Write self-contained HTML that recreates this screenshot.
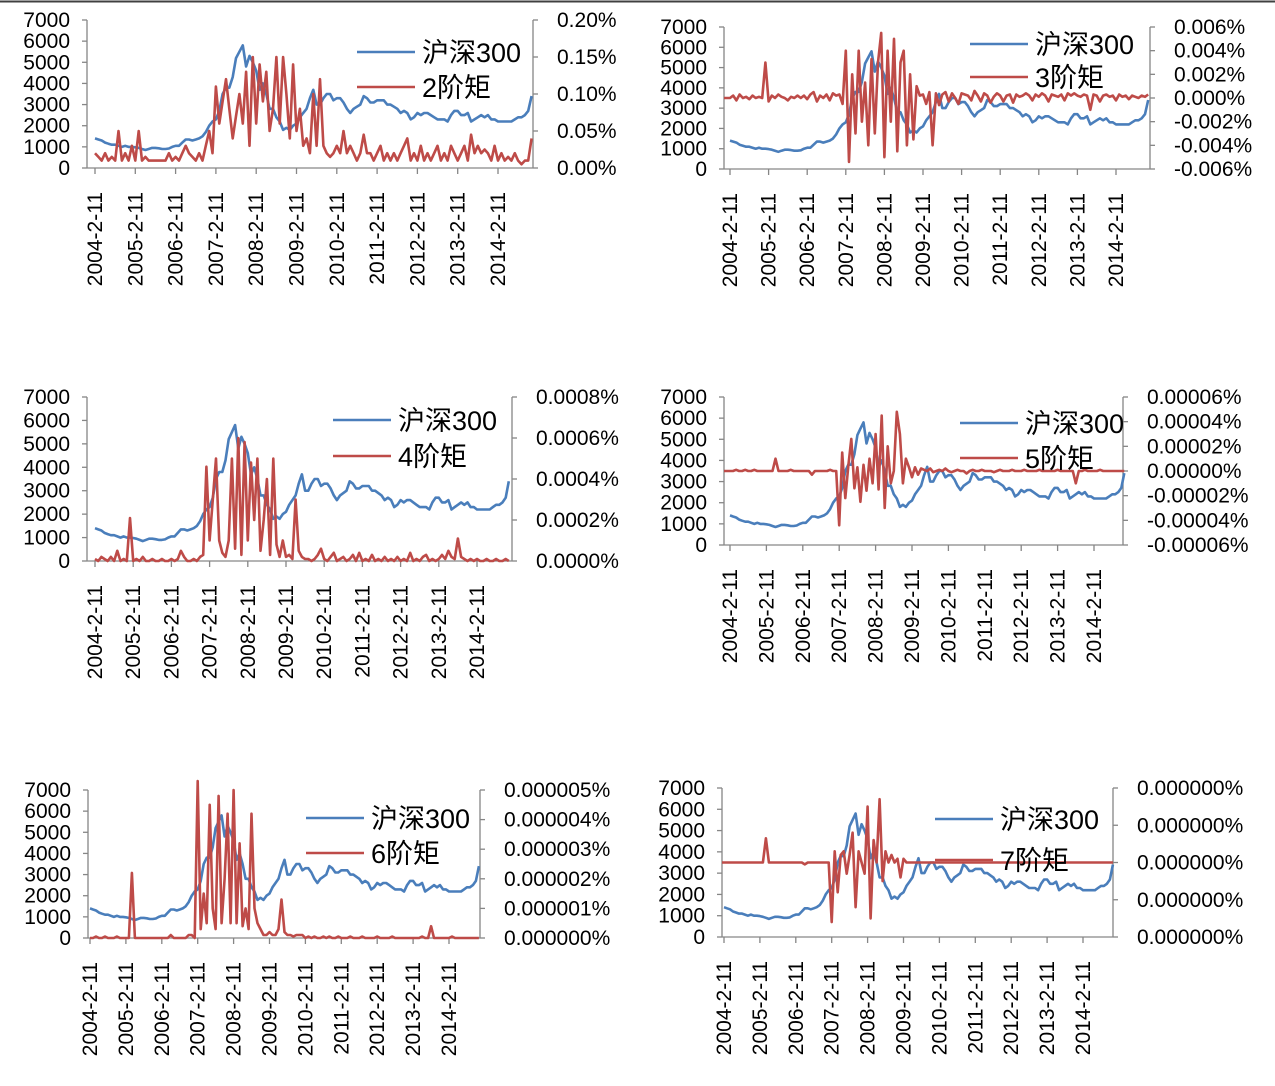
<!DOCTYPE html>
<html><head><meta charset="utf-8">
<style>
html,body{margin:0;padding:0;background:#fff;}
svg{display:block;}
text{font-family:"Liberation Sans","Noto Sans CJK SC",sans-serif;fill:#000;}
.lg{font-size:27px;}
.tk{font-size:21px;}
</style></head>
<body>
<svg id="s" width="1275" height="1086" viewBox="0 0 1275 1086" xmlns="http://www.w3.org/2000/svg">
<line x1="0" y1="1.5" x2="1275" y2="1.5" stroke="#404040" stroke-width="2"/>
</svg>
<script>
const xTickLabels=["2004-2-11","2005-2-11","2006-2-11","2007-2-11","2008-2-11","2009-2-11","2010-2-11","2011-2-11","2012-2-11","2013-2-11","2014-2-11"];
const leftTicks=[0,1000,2000,3000,4000,5000,6000,7000];
// CSI300 monthly, Feb 2004 - Dec 2014
const csi300=[1400,1350,1300,1200,1150,1100,1100,1050,1000,1050,1000,
1000,980,950,900,850,900,950,950,930,900,900,920,
1000,1050,1050,1200,1350,1350,1300,1350,1400,1500,1700,2000,
2200,2300,2700,3500,3800,3800,4300,5200,5500,5800,4800,5300,
5000,4600,3700,4000,3500,2800,2800,2400,2200,1800,1900,1800,
2000,2100,2400,2600,2800,3300,3700,3000,3000,3300,3500,3500,
3200,3300,3300,3100,2800,2600,2800,2900,3000,3400,3300,3100,
3100,3200,3200,3200,3000,3000,2900,2800,2600,2700,2600,2300,
2400,2600,2500,2600,2600,2500,2400,2300,2300,2300,2200,2500,
2700,2700,2500,2500,2600,2200,2300,2400,2500,2400,2500,2300,
2300,2200,2200,2200,2200,2200,2300,2400,2400,2500,2700,3400];
const moment2=[.02,.015,.01,.02,.01,.015,.01,.05,.01,.02,.01,
.03,.01,.05,.01,.015,.01,.01,.01,.01,.01,.01,.02,
.01,.015,.01,.02,.03,.02,.015,.01,.02,.01,.03,.05,
.02,.11,.06,.09,.12,.08,.04,.07,.1,.06,.13,.03,
.15,.06,.14,.09,.13,.05,.08,.15,.06,.15,.1,.04,
.14,.05,.08,.03,.04,.02,.1,.03,.12,.03,.02,.015,
.02,.03,.02,.05,.02,.03,.02,.01,.02,.045,.02,.02,
.01,.02,.03,.01,.02,.01,.02,.01,.02,.03,.04,.01,
.02,.01,.03,.01,.02,.01,.02,.03,.01,.02,.01,.03,
.02,.01,.02,.03,.01,.045,.02,.03,.02,.025,.02,.01,
.03,.01,.02,.01,.015,.01,.02,.01,.005,.01,.01,.04];
const moment3=[0,.0002,-.0002,.0003,0,.0001,-.0001,.0002,0,.0001,0,
.003,-.0003,.0002,0,.0003,.0001,0,-.0002,.0001,0,.0002,0,
.0002,-.0001,.0003,.0005,-.0003,.0002,0,.0003,-.0002,.0004,.0002,.0003,
-.0005,.004,-.0054,.002,-.003,.004,-.002,.0013,-.004,.0033,-.003,.003,
.0055,-.005,.004,-.002,.005,-.0045,.003,.004,-.004,.002,-.0035,.001,
.0002,.0003,-.0005,.0005,-.004,.0004,-.0006,.0003,.0005,-.0003,.0004,0,
-.0005,.0004,.0003,.0002,-.0002,.0006,.0002,-.0003,.0004,.0002,-.0004,.0001,
.0004,.0002,-.0003,.0002,.0003,-.0004,.0003,.0001,.0002,.0004,.0002,-.0002,
.0003,.0001,.0004,.0002,-.0003,.0003,.0002,.0001,.0003,-.0002,.0004,.0002,
.0004,.0002,.0001,.0003,.0002,-.001,.0003,.0002,-.0003,.0002,.0003,.0001,
.0002,-.0002,.0003,.0001,.0002,-.0001,.0002,.0001,0,.0002,.0001,.0003];
const moment4=[.01,0,.02,.01,0,.02,0,.05,0,.01,0,
.21,0,.01,0,.02,0,0,.01,0,0,.01,0,
0,.01,0,.01,.05,.02,0,0,.01,0,.02,.03,
.46,.1,.3,.5,.1,.04,.02,.1,.5,.06,.6,.03,
.58,.1,.48,.2,.5,.05,.2,.4,.03,.5,.08,.02,
.1,.02,.03,.01,.3,.05,.02,.01,.01,0,.01,.03,
.06,.01,0,.02,.04,0,.01,.02,0,.01,.03,0,
.04,0,.01,0,.03,0,.01,0,.02,0,.01,0,
.02,0,.01,0,.04,0,.01,0,.02,.03,0,.01,
0,.01,.03,.01,.05,.02,.01,.11,.02,.01,0,.01,
0,.01,0,0,.01,0,0,.01,0,0,.01,0]; // x1e-3 %
const moment5=[0,0,.1,0,0,.1,0,0,.1,0,0,
0,0,0,0,1,0,0,0,0,.1,0,0,
0,0,0,0,-.3,0,0,0,0,0,.1,0,
0,-4.4,1.5,-2.2,.4,2.6,-1.4,.3,-2.5,.5,-1.6,1,
-1,3,-1.5,4.5,-3,2,-1,0,4.8,3,-1,1,
.3,-.5,.3,-.3,.2,.1,0,.2,-.1,0,.1,0,
.2,0,-.1,0,.1,0,0,-.2,0,.1,0,0,
.1,0,0,0,-.1,0,.1,0,0,0,.1,0,
0,0,.1,0,0,0,0,.1,0,0,0,0,
0,.1,0,0,0,0,0,-1,0,0,.1,0,
0,0,0,.1,0,0,0,0,0,0,0,0]; // x1e-5 %
const moment6=[0,0,.05,0,0,.05,0,0,0,.05,0,
0,0,0,2.2,0,0,0,0,0,0,0,0,
0,0,0,0,.1,0,0,0,0,0,.1,.1,
0,5.3,.3,1.5,.5,4.5,1,.3,4.8,.5,2,4.2,
.5,5,.5,3.2,.4,1,.3,4.2,1,.5,.3,.1,
.1,.2,.1,.1,.3,1.3,.2,.1,.1,.05,.1,.1,
.1,0,.05,0,.05,0,0,.05,0,.05,0,0,
.05,0,0,0,.05,0,0,0,.05,0,0,0,
0,.05,0,0,0,0,.05,0,0,0,0,0,
0,0,0,0,.05,0,0,.4,0,0,0,0,
0,0,.05,0,0,0,0,0,0,0,0,0]; // x1e-6 %
const moment7=[0,0,0,0,0,0,0,0,0,0,0,
0,0,0,.65,0,0,0,0,0,0,0,0,
0,0,0,0,-.05,0,0,0,0,0,0,0,
0,-1.6,.3,-.8,.2,.3,-.3,.2,.8,-1.2,.3,0,
-.3,1.5,-1.5,.6,0,1.7,-.5,.3,0,.2,0,.1,
-.4,.1,0,0,0,0,0,0,0,0,0,0,
0,0,0,0,0,0,0,0,0,0,0,0,
0,0,0,0,0,0,0,0,0,0,0,0,
0,0,0,0,0,0,0,0,0,0,0,0,
0,0,0,0,0,0,0,0,0,0,0,0,
0,0,0,0,0,0,0,0,0,0,0,0];
const rightTicks2=[0,0.05,0.10,0.15,0.20];
const rightTicks3=[-0.006,-0.004,-0.002,0,0.002,0.004,0.006];
const rightTicks4=[0,0.2,0.4,0.6,0.8];
const rightTicks5=[-6,-4,-2,0,2,4,6];
const rightTicks6=[0,1,2,3,4,5];
const rightTicks7=[-2,-1,0,1,2];

const NS="http://www.w3.org/2000/svg";
const svg=document.getElementById('s');
function mk(tag,attrs,parent,txt){const e=document.createElementNS(NS,tag);for(const k in attrs)e.setAttribute(k,attrs[k]);if(txt!==undefined)e.textContent=txt;(parent||svg).appendChild(e);return e;}

function chart(c){
  const g=mk('g',{});
  
  
  const xs=i=>c.x0+(i/12)*c.ys;
  const yl=v=>c.yB-(v/7000)*(c.yB-c.yT);
  const yr=v=>c.yB-(v-c.rMin)/(c.rMax-c.rMin)*(c.yB-c.yT);
  const ax='#868686';
  const la=mk('line',{x1:c.axL,y1:c.yT,x2:c.axL,y2:c.yB,stroke:ax,'stroke-width':1.3},g);
  
  leftTicks.forEach(v=>{
    mk('line',{x1:c.axL-5,y1:yl(v),x2:c.axL,y2:yl(v),stroke:ax,'stroke-width':1.3},g);
    const t=mk('text',{x:c.axL-17,y:yl(v)+7,'text-anchor':'end',class:'tk'},g,String(v));
    
  });
  const ra=mk('line',{x1:c.axR,y1:c.yT,x2:c.axR,y2:c.yB,stroke:ax,'stroke-width':1.3},g);
  
  c.rTicks.forEach(v=>{
    mk('line',{x1:c.axR,y1:yr(v),x2:c.axR+5,y2:yr(v),stroke:ax,'stroke-width':1.3},g);
    const t=mk('text',{x:c.axR+24,y:yr(v)+7,'text-anchor':'start',class:'tk'},g,c.fmt(v));
    
  });
  const xa=mk('line',{x1:c.axL,y1:c.yB,x2:c.axR,y2:c.yB,stroke:ax,'stroke-width':1.3},g);
  
  xTickLabels.forEach((l,k)=>{
    const x=xs(k*12);
    mk('line',{x1:x,y1:c.yB,x2:x,y2:c.yB+6,stroke:ax,'stroke-width':1.3},g);
    const t=mk('text',{x:0,y:0,'text-anchor':'end',class:'tk',transform:`translate(${x+7},${c.yB+24}) rotate(-90)`},g,l);
    
  });
  const pb=csi300.map((v,i)=>xs(i).toFixed(1)+','+yl(v).toFixed(1)).join(' ');
  const b=mk('polyline',{points:pb,fill:'none',stroke:'#4a7ebb','stroke-width':2.6,'stroke-linejoin':'round'},g);
  
  const pr=c.red.map((v,i)=>xs(i).toFixed(1)+','+yr(v).toFixed(1)).join(' ');
  const startPt=c.redFromAxis?(c.axL+','+yr(c.red[0]).toFixed(1)+' '):'';
  const r=mk('polyline',{points:startPt+pr,fill:'none',stroke:'#be4b48','stroke-width':2.6,'stroke-linejoin':'round'},g);
  
  const lg=mk('g',{},g);
  
  mk('line',{x1:c.lx,y1:c.ly1,x2:c.lx+58,y2:c.ly1,stroke:'#4a7ebb','stroke-width':2.6},lg);
  const t1=mk('text',{x:c.lx+65,y:c.ly1+10,class:'lg'},lg,'沪深300');
  
  mk('line',{x1:c.lx,y1:c.ly2,x2:c.lx+58,y2:c.ly2,stroke:'#be4b48','stroke-width':2.6},lg);
  const t2=mk('text',{x:c.lx+65,y:c.ly2+10,class:'lg'},lg,c.label);
  
}
chart({name:'chart-moment2',axL:87,x0:95,ys:40.3,axR:533,yT:20,yB:168,rMin:0,rMax:0.2,rTicks:rightTicks2,fmt:v=>v.toFixed(2)+'%',red:moment2,label:'2阶矩',lx:357,ly1:52,ly2:87});
chart({name:'chart-moment3',axL:724,x0:730,ys:38.6,axR:1150,yT:27,yB:169,rMin:-0.006,rMax:0.006,rTicks:rightTicks3,fmt:v=>v.toFixed(3)+'%',red:moment3,label:'3阶矩',lx:970,ly1:44,ly2:77,redFromAxis:true});
chart({name:'chart-moment4',axL:87,x0:95,ys:38.2,axR:512,yT:397,yB:561,rMin:0,rMax:0.8,rTicks:rightTicks4,fmt:v=>(v/1000).toFixed(4)+'%',red:moment4,label:'4阶矩',lx:333,ly1:420,ly2:456});
chart({name:'chart-moment5',axL:724,x0:730,ys:36.4,axR:1123,yT:397,yB:545,rMin:-6,rMax:6,rTicks:rightTicks5,fmt:v=>(v/1e5).toFixed(5)+'%',red:moment5,label:'5阶矩',lx:960,ly1:423,ly2:458,redFromAxis:true});
chart({name:'chart-moment6',axL:88,x0:90,ys:35.9,axR:480,yT:790,yB:938,rMin:0,rMax:5,rTicks:rightTicks6,fmt:v=>(v/1e6).toFixed(6)+'%',red:moment6,label:'6阶矩',lx:306,ly1:818,ly2:853});
chart({name:'chart-moment7',axL:722,x0:724,ys:35.9,axR:1113,yT:788,yB:937,rMin:-2,rMax:2,rTicks:rightTicks7,fmt:v=>'0.000000%',red:moment7,label:'7阶矩',lx:935,ly1:819,ly2:860,redFromAxis:true});
</script>
</body></html>
